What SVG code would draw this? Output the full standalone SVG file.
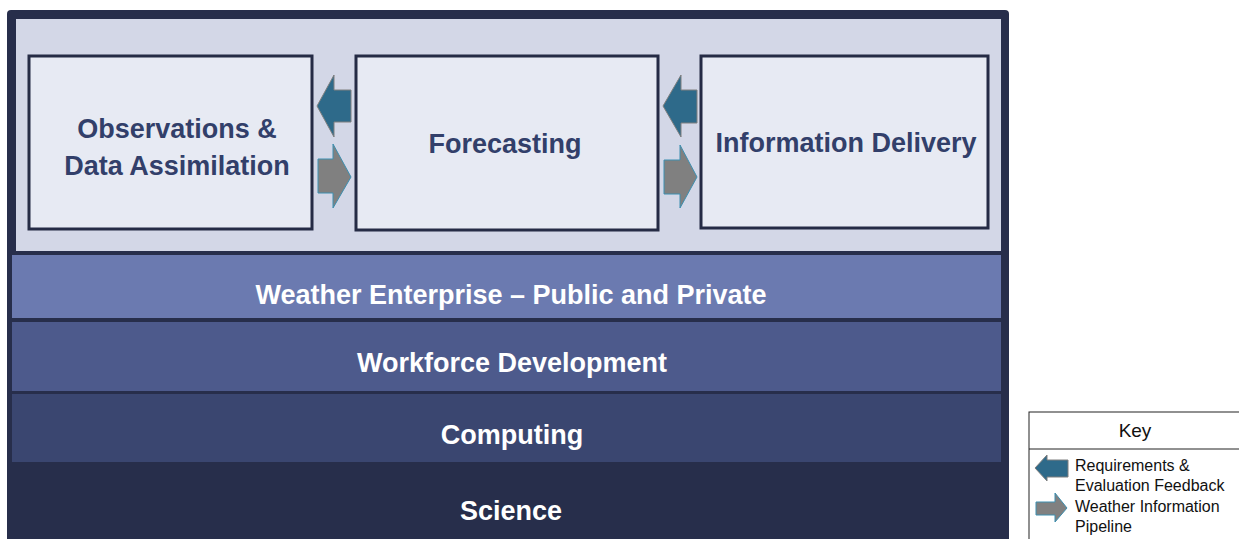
<svg xmlns="http://www.w3.org/2000/svg" width="1239" height="539" viewBox="0 0 1239 539">
<style>
.box{fill:#e7eaf3;stroke:#252b45;stroke-width:3}
.btxt{font-family:"Liberation Sans",Arial,sans-serif;font-weight:bold;font-size:27px;fill:#323f6a;text-anchor:middle}
.wtxt{font-family:"Liberation Sans",Arial,sans-serif;font-weight:bold;font-size:27px;fill:#ffffff;text-anchor:middle}
.ktxt{font-family:"Liberation Sans",Arial,sans-serif;font-size:16px;fill:#111111}
.fb{fill:#2e6a8a;stroke:#7f7f7f;stroke-width:1}
.pl{fill:#808080;stroke:#3d8fb0;stroke-width:1}
</style>
<rect width="1239" height="539" fill="#ffffff"/>
<g id="frame">
<rect x="7" y="10" width="1002" height="540" rx="4" fill="#272e4b"/>
<rect x="16" y="19" width="985" height="232" fill="#d3d7e7"/>
</g>
<g id="weather-enterprise">
<rect x="12" y="255" width="989" height="63" fill="#6b7ab0"/>
<text class="wtxt" x="511" y="304">Weather Enterprise – Public and Private</text>
</g>
<g id="workforce-development">
<rect x="12" y="322" width="989" height="69" fill="#4d5a8c"/>
<text class="wtxt" x="512" y="372">Workforce Development</text>
</g>
<g id="computing">
<rect x="12" y="394" width="989" height="68" fill="#3a4670"/>
<text class="wtxt" x="512" y="444">Computing</text>
</g>
<g id="science">
<text class="wtxt" x="511" y="520">Science</text>
</g>
<g id="observations">
<rect class="box" x="29" y="56" width="283" height="173"/>
<text class="btxt" x="177" y="138">Observations &amp;</text>
<text class="btxt" x="177" y="175">Data Assimilation</text>
</g>
<g id="forecasting">
<rect class="box" x="356" y="56" width="302" height="174"/>
<text class="btxt" x="505" y="153">Forecasting</text>
</g>
<g id="information-delivery">
<rect class="box" x="701" y="56" width="287" height="172"/>
<text class="btxt" x="846" y="152">Information Delivery</text>
</g>
<g id="connectors">
<polygon class="fb" points="317,106 334,75 334,90 351,90 351,122 334,122 334,137"/>
<polygon class="pl" points="318,159 333,159 333,144 351,177 333,208 333,193 318,193"/>
<polygon class="fb" points="663,106 681,75 681,90 697,90 697,123 681,123 681,137"/>
<polygon class="pl" points="664,160 680,160 680,145 697,177 680,208 680,194 664,194"/>
</g>
<g id="key">
<rect x="1029" y="412" width="220" height="140" fill="#ffffff" stroke="#222222" stroke-width="1"/>
<line x1="1029" y1="449" x2="1239" y2="449" stroke="#222222" stroke-width="1"/>
<text x="1135" y="437" font-family="'Liberation Sans',Arial,sans-serif" font-size="19" fill="#111111" text-anchor="middle">Key</text>
<polygon class="fb" points="1035,468 1047,455 1047,460 1068,460 1068,477 1047,477 1047,481"/>
<polygon class="pl" points="1036,502 1055,502 1055,493 1067,508 1055,522 1055,515 1036,515"/>
<text class="ktxt" x="1075" y="471">Requirements &amp;</text>
<text class="ktxt" x="1075" y="491">Evaluation Feedback</text>
<text class="ktxt" x="1075" y="512">Weather Information</text>
<text class="ktxt" x="1075" y="532">Pipeline</text>
</g>
</svg>
